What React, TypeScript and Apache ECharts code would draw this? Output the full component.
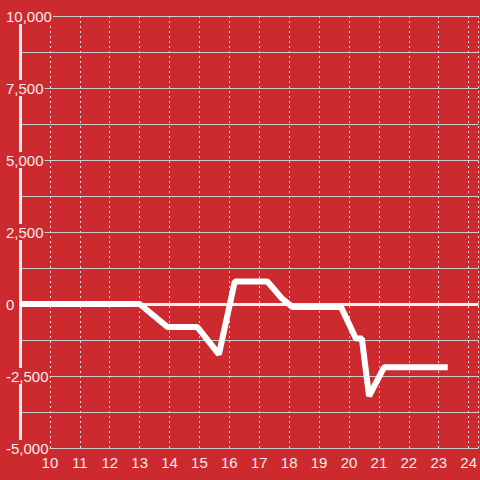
import React, { useEffect, useRef } from "react";
import * as echarts from "echarts";

const xValues = [9, 13, 13.93, 14.93, 15.65, 16.18, 17.27, 17.75, 18.1, 19.73, 20.23, 20.43, 20.67, 21.17, 23.3];
const yValues = [0, 0, -800, -800, -1750, 780, 780, 200, -100, -100, -1200, -1200, -3200, -2200, -2200];

const BG = "#cd2a2f";
const FG = "#eeeeee";

export default function App() {
  const ref = useRef<HTMLDivElement>(null);
  useEffect(() => {
    if (!ref.current) return;
    const chart = echarts.init(ref.current, undefined, { renderer: "svg" });
    const data = xValues.map((x, i) => [x, yValues[i]]);
    chart.setOption({
      animation: false,
      backgroundColor: BG,
      grid: { left: 20, right: 0, top: 16, bottom: 32, containLabel: false },
      xAxis: {
        type: "value",
        min: 9,
        max: 24.333,
        interval: 1,
        axisLine: { show: false },
        axisTick: { show: false },
        axisLabel: {
          color: FG,
          fontSize: 15,
          lineHeight: 14,
          fontFamily: "Liberation Sans, Arial, sans-serif",
          showMinLabel: false,
          showMaxLabel: false,
          margin: 7,
        },
        splitLine: { show: true, lineStyle: { color: "#dddddd", type: [2, 3], width: 1 } },
      },
      yAxis: {
        type: "value",
        min: -5000,
        max: 10000,
        interval: 2500,
        axisLine: { show: true, lineStyle: { color: FG, width: 3 } },
        axisTick: { show: false },
        minorTick: { show: false, splitNumber: 2 },
        minorSplitLine: { show: true, lineStyle: { color: "#cccccc", width: 1 } },
        splitLine: { show: true, lineStyle: { color: "#cccccc", width: 1 } },
        axisLabel: {
          color: FG,
          fontSize: 15,
          lineHeight: 14,
          fontFamily: "Liberation Sans, Arial, sans-serif",
          align: "left",
          margin: 15,
          backgroundColor: BG,
          padding: [1, 1, 1, 1],
          formatter: (v: number) => v.toLocaleString("en-US"),
        },
      },
      series: [
        {
          type: "line",
          data,
          showSymbol: false,
          symbol: "none",
          lineStyle: { color: "#ffffff", width: 6 },
          z: 3,
          markLine: {
            silent: true,
            symbol: "none",
            label: { show: false },
            lineStyle: { color: FG, width: 3, type: "solid" },
            data: [{ yAxis: 0 }],
            z: 2,
          },
        },
      ],
    });
    return () => chart.dispose();
  }, []);
  return <div ref={ref} style={{ width: 480, height: 480, position: "fixed", left: 0, top: 0 }} />;
}
